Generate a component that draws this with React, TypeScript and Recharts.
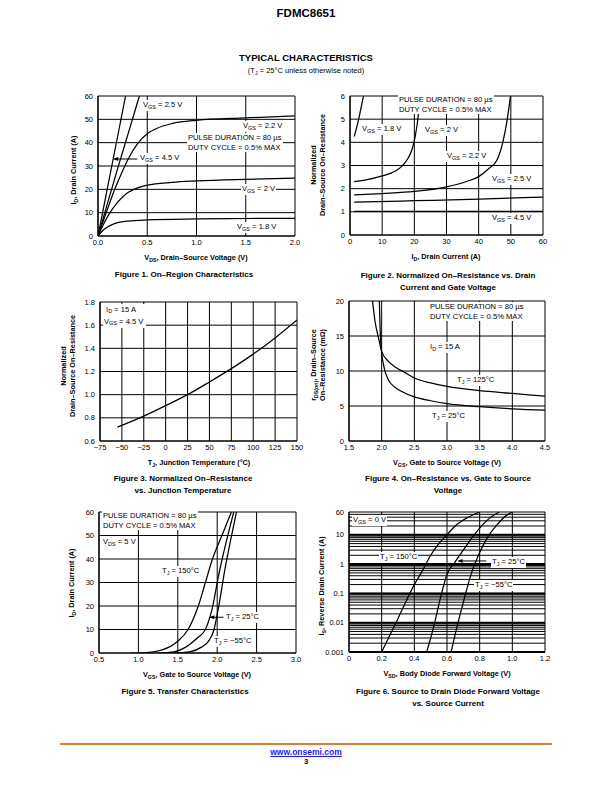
import React from 'react';
import { LineChart, Line, XAxis, YAxis, CartesianGrid, ReferenceLine, ReferenceDot } from 'recharts';

type Pt = { x: number; y: number };
const pts = (a: number[][]): Pt[] => a.map(([x, y]) => ({ x, y }));

// Figure 1 - On-Region Characteristics (VDS in V, ID in A)
const f1Vgs45 = pts([[0, 0], [0.14, 30], [0.28, 60]]);
const f1Vgs25 = pts([[0, 0], [0.1, 14.5], [0.2, 29], [0.3, 43], [0.42, 60]]);
const f1Vgs22 = pts([[0, 0], [0.1, 12], [0.17, 20], [0.25, 28], [0.3, 32.5], [0.4, 39.5], [0.5, 43.8], [0.6, 46.2], [0.75, 48.2], [1.0, 49.6], [1.5, 50.6], [2.0, 51.5]]);
const f1Vgs20 = pts([[0, 0], [0.05, 4.5], [0.1, 8.5], [0.2, 14.5], [0.3, 18.5], [0.4, 20.6], [0.5, 21.8], [0.75, 23], [1.0, 23.6], [1.5, 24.3], [2.0, 24.8]]);
const f1Vgs18 = pts([[0, 0], [0.03, 1.5], [0.06, 2.8], [0.1, 4], [0.15, 5], [0.2, 5.7], [0.3, 6.4], [0.5, 6.9], [1.0, 7.3], [1.5, 7.5], [2.0, 7.6]]);
const f1XTicks = [0, 0.5, 1.0, 1.5, 2.0];
const f1YTicks = [0, 10, 20, 30, 40, 50, 60];

// Figure 2 - normalized on-resistance vs drain current
const f2Vgs18 = pts([[1.3, 4.25], [2, 4.6], [3, 5.2], [4.2, 6]]);
const f2Vgs20 = pts([[1.3, 2.3], [5, 2.38], [10, 2.55], [14, 2.75], [16, 2.95], [18, 3.3], [19.3, 3.7], [20.2, 4.2], [21, 4.9], [21.8, 6]]);
const f2Vgs22 = pts([[1.3, 1.73], [10, 1.79], [20, 1.88], [30, 2.08], [36, 2.3], [40, 2.52], [43, 2.85], [45.7, 3.24], [47.5, 4.0], [48.9, 5.0], [49.9, 6]]);
const f2Vgs25 = pts([[1.3, 1.42], [20, 1.48], [40, 1.55], [60, 1.64]]);
const f2Vgs45 = pts([[1.3, 1.02], [30, 1.02], [60, 1.02]]);
const f2XTicks = [0, 10, 20, 30, 40, 50, 60];
const f2YTicks = [0, 1, 2, 3, 4, 5, 6];

// Figure 3 - normalized on-resistance vs junction temperature
const f3Curve = pts([[-55, 0.72], [-25, 0.815], [0, 0.905], [25, 1.0], [50, 1.11], [75, 1.225], [100, 1.35], [125, 1.49], [150, 1.645]]);
const f3XTicks = [-75, -50, -25, 0, 25, 50, 75, 100, 125, 150];
const f3YTicks = [0.6, 0.8, 1.0, 1.2, 1.4, 1.6, 1.8];

// Figure 4 - on-resistance vs gate voltage (mOhm)
const f4Tj125 = pts([[1.86, 20], [1.9, 17], [1.95, 14.8], [2.0, 12.8], [2.1, 11.4], [2.2, 10.6], [2.35, 9.8], [2.5, 9.0], [2.75, 8.3], [3.0, 7.8], [3.5, 7.2], [4.0, 6.8], [4.5, 6.4]]);
const f4Tj25 = pts([[1.965, 20], [1.975, 16.5], [1.99, 13.5], [2.03, 10.8], [2.1, 8.8], [2.2, 7.7], [2.3, 7.1], [2.5, 6.3], [2.75, 5.75], [3.0, 5.35], [3.5, 4.9], [4.0, 4.6], [4.5, 4.4]]);
const f4XTicks = [1.5, 2.0, 2.5, 3.0, 3.5, 4.0, 4.5];
const f4YTicks = [0, 5, 10, 15, 20];

// Figure 5 - transfer characteristics
const f5Tj150 = pts([[0.9, 0], [1.1, 0.2], [1.3, 1.3], [1.5, 5], [1.63, 10], [1.76, 20], [1.85, 30], [1.94, 40], [2.06, 50], [2.18, 60]]);
const f5Tj25 = pts([[1.25, 0], [1.45, 0.5], [1.6, 2.5], [1.75, 6.5], [1.85, 10], [1.93, 18], [2.03, 35], [2.12, 48], [2.21, 60]]);
const f5TjM55 = pts([[1.45, 0], [1.65, 0.5], [1.8, 2.5], [1.9, 5.5], [1.96, 10], [2.02, 20], [2.1, 36], [2.17, 48], [2.245, 60]]);
const f5XTicks = [0.5, 1.0, 1.5, 2.0, 2.5, 3.0];
const f5YTicks = [0, 10, 20, 30, 40, 50, 60];

// Figure 6 - body diode forward voltage (log current)
const f6Tj150 = pts([[0.2, 0.001], [0.3, 0.014], [0.4, 0.2], [0.45, 0.6], [0.5, 2], [0.55, 5], [0.6, 10], [0.65, 20], [0.7, 32], [0.8, 60]]);
const f6Tj25 = pts([[0.476, 0.001], [0.52, 0.008], [0.56, 0.07], [0.6, 0.45], [0.65, 1.2], [0.7, 3], [0.75, 7.5], [0.8, 17], [0.85, 33], [0.92, 60]]);
const f6TjM55 = pts([[0.625, 0.001], [0.65, 0.004], [0.7, 0.05], [0.75, 0.5], [0.8, 2.5], [0.85, 8.5], [0.9, 20], [0.95, 40], [1.0, 60]]);
const f6XTicks = [0, 0.2, 0.4, 0.6, 0.8, 1.0, 1.2];
const f6YTicks = [
  0.001, 0.002, 0.003, 0.004, 0.005, 0.006, 0.007, 0.008, 0.009,
  0.01, 0.02, 0.03, 0.04, 0.05, 0.06, 0.07, 0.08, 0.09,
  0.1, 0.2, 0.3, 0.4, 0.5, 0.6, 0.7, 0.8, 0.9,
  1, 2, 3, 4, 5, 6, 7, 8, 9,
  10, 20, 30, 40, 50, 60,
];
const f6Decades = [0.001, 0.01, 0.1, 1, 10];
const f6YLabels: Record<string, string> = { '0.001': '0.001', '0.01': '0.01', '0.1': '0.1', '1': '1', '10': '10', '60': '60' };

const FONT = '"Liberation Sans", Arial, Helvetica, sans-serif';
const YW = 30;
const MT = 6;
const MR = 8;
const XH = 16;

const fix1 = (v: number) => v.toFixed(1);
const int = (v: number) => String(v);
const minus = (v: number) => String(v).replace('-', '\u2212');

type Box = { x: number; y: number; w: number; h: number };

interface PanelProps {
  box: Box;
  xDomain: [number, number];
  xTicks: number[];
  xFmt: (v: number) => string;
  yDomain: [number, number];
  yTicks: number[];
  yFmt: (v: number) => string;
  log?: boolean;
  series: Pt[][];
  children?: React.ReactNode;
}

const Panel = ({ box, xDomain, xTicks, xFmt, yDomain, yTicks, yFmt, log, series, children }: PanelProps) => (
  <div style={{ position: 'absolute', left: box.x - YW, top: box.y - MT }}>
    <LineChart width={box.w + YW + MR} height={box.h + MT + XH} margin={{ top: MT, right: MR, bottom: 0, left: 0 }}>
      <CartesianGrid stroke="#000" strokeWidth={1} />
      <XAxis
        type="number"
        dataKey="x"
        domain={xDomain}
        ticks={xTicks}
        interval={0}
        allowDataOverflow
        height={XH}
        tickLine={false}
        tickSize={0}
        tickMargin={4}
        axisLine={{ stroke: '#000', strokeWidth: 1.2 }}
        tick={{ fontSize: 7.5, fill: '#000' }}
        tickFormatter={xFmt}
      />
      <YAxis
        type="number"
        dataKey="y"
        domain={yDomain}
        ticks={yTicks}
        interval={0}
        allowDataOverflow
        scale={log ? 'log' : 'linear'}
        width={YW}
        tickLine={false}
        tickSize={0}
        tickMargin={5}
        axisLine={{ stroke: '#000', strokeWidth: 1.2 }}
        tick={{ fontSize: 7.5, fill: '#000' }}
        tickFormatter={yFmt}
      />
      {children}
      {series.map((d, i) => (
        <Line key={i} data={d} dataKey="y" type="monotone" stroke="#000" strokeWidth={1.25} dot={false} activeDot={false} isAnimationActive={false} />
      ))}
    </LineChart>
  </div>
);

// small filled arrowhead pointing left
const arrowHead = (p: any) => (
  <path d={`M${p.cx},${p.cy} l5,-2 l0,4 z`} fill="#000" />
);

const Sub = ({ t }: { t: string }) => (
  <span style={{ fontSize: '0.72em', position: 'relative', top: '0.3em' }}>{t}</span>
);

const Txt = ({ x, y, children, size = 7.6, lh = 9.5, bg = true }: { x: number; y: number; children: React.ReactNode; size?: number; lh?: number; bg?: boolean }) => (
  <div
    style={{
      position: 'absolute',
      left: x - 1,
      top: y - lh / 2,
      fontSize: size,
      lineHeight: `${lh}px`,
      padding: '0 1px',
      background: bg ? '#fff' : 'transparent',
      whiteSpace: 'nowrap',
    }}
  >
    {children}
  </div>
);

// y is the centre of the first line
const Center = ({ x, y, children, size = 7.5, bold = true, lh = 12 }: { x: number; y: number; children: React.ReactNode; size?: number; bold?: boolean; lh?: number }) => (
  <div
    style={{
      position: 'absolute',
      left: x,
      top: y - lh / 2,
      transform: 'translateX(-50%)',
      fontSize: size,
      fontWeight: bold ? 'bold' : 'normal',
      lineHeight: `${lh}px`,
      whiteSpace: 'nowrap',
      textAlign: 'center',
    }}
  >
    {children}
  </div>
);

const VTitle = ({ x, y, children, lh = 8.5 }: { x: number; y: number; children: React.ReactNode; lh?: number }) => (
  <div
    style={{
      position: 'absolute',
      left: x,
      top: y,
      transform: 'translate(-50%, -50%) rotate(-90deg)',
      fontSize: 7.3,
      fontWeight: 'bold',
      lineHeight: `${lh}px`,
      whiteSpace: 'nowrap',
      textAlign: 'center',
    }}
  >
    {children}
  </div>
);

const Pulse = ({ x, y }: { x: number; y: number }) => (
  <Txt x={x} y={y}>
    PULSE DURATION = 80 µs
    <br />
    DUTY CYCLE = 0.5% MAX
  </Txt>
);

export default function App() {
  return (
    <div style={{ position: 'absolute', left: 0, top: 0, width: 612, height: 792, background: '#fff', fontFamily: FONT, color: '#000', overflow: 'hidden' }}>
      <Center x={306} y={13} size={11.5}>FDMC8651</Center>
      <Center x={306} y={58} size={9.5}>TYPICAL CHARACTERISTICS</Center>
      <Center x={306} y={71} size={7.5} bold={false}>
        (T<Sub t="J" /> = 25°C unless otherwise noted)
      </Center>

      {/* Figure 1 */}
      <Panel box={{ x: 98, y: 96, w: 197, h: 140 }} xDomain={[0, 2]} xTicks={f1XTicks} xFmt={fix1} yDomain={[0, 60]} yTicks={f1YTicks} yFmt={int}
        series={[f1Vgs45, f1Vgs25, f1Vgs22, f1Vgs20, f1Vgs18]}>
        <ReferenceLine segment={[{ x: 0.16, y: 33 }, { x: 0.4, y: 33 }]} stroke="#000" strokeWidth={1} />
        <ReferenceDot x={0.155} y={33} shape={arrowHead} />
      </Panel>
      <Txt x={143} y={105}>V<Sub t="GS" /> = 2.5 V</Txt>
      <Txt x={243} y={126}>V<Sub t="GS" /> = 2.2 V</Txt>
      <Pulse x={188} y={138} />
      <Txt x={140} y={158}>V<Sub t="GS" /> = 4.5 V</Txt>
      <Txt x={242} y={189}>V<Sub t="GS" /> = 2 V</Txt>
      <Txt x={237} y={227}>V<Sub t="GS" /> = 1.8 V</Txt>
      <VTitle x={74} y={170}>I<Sub t="D" />, Drain Current (A)</VTitle>
      <Center x={196} y={258} size={7.3}>V<Sub t="DS" />, Drain–Source Voltage (V)</Center>
      <Center x={184} y={275} size={8}>Figure 1. On–Region Characteristics</Center>

      {/* Figure 2 */}
      <Panel box={{ x: 350, y: 96, w: 193, h: 139 }} xDomain={[0, 60]} xTicks={f2XTicks} xFmt={int} yDomain={[0, 6]} yTicks={f2YTicks} yFmt={int}
        series={[f2Vgs18, f2Vgs20, f2Vgs22, f2Vgs25, f2Vgs45]} />
      <Pulse x={399} y={100} />
      <Txt x={362} y={129}>V<Sub t="GS" /> = 1.8 V</Txt>
      <Txt x={425} y={130}>V<Sub t="GS" /> = 2 V</Txt>
      <Txt x={447} y={156}>V<Sub t="GS" /> = 2.2 V</Txt>
      <Txt x={492} y={179}>V<Sub t="GS" /> = 2.5 V</Txt>
      <Txt x={492} y={218}>V<Sub t="GS" /> = 4.5 V</Txt>
      <VTitle x={318} y={165}>Normalized<br />Drain–Source On–Resistance</VTitle>
      <Center x={446} y={257} size={7.3}>I<Sub t="D" />, Drain Current (A)</Center>
      <Center x={448} y={276} size={8}>Figure 2. Normalized On–Resistance vs. Drain<br />Current and Gate Voltage</Center>

      {/* Figure 3 */}
      <Panel box={{ x: 100, y: 302, w: 197, h: 139 }} xDomain={[-75, 150]} xTicks={f3XTicks} xFmt={minus} yDomain={[0.6, 1.8]} yTicks={f3YTicks} yFmt={fix1}
        series={[f3Curve]} />
      <Txt x={104} y={309} lh={11}>
        &nbsp;I<Sub t="D" /> = 15 A
        <br />
        V<Sub t="GS" /> = 4.5 V&nbsp;
      </Txt>
      <VTitle x={68} y={366}>Normalized<br />Drain–Source On–Resistance</VTitle>
      <Center x={199} y={463} size={7.3}>T<Sub t="J" />, Junction Temperature (°C)</Center>
      <Center x={183} y={479} size={8}>Figure 3. Normalized On–Resistance<br />vs. Junction Temperature</Center>

      {/* Figure 4 */}
      <Panel box={{ x: 349, y: 301, w: 196, h: 140 }} xDomain={[1.5, 4.5]} xTicks={f4XTicks} xFmt={fix1} yDomain={[0, 20]} yTicks={f4YTicks} yFmt={int}
        series={[f4Tj125, f4Tj25]} />
      <Pulse x={430} y={307} />
      <Txt x={430} y={347}>I<Sub t="D" /> = 15 A</Txt>
      <Txt x={457} y={380}>T<Sub t="J" /> = 125°C</Txt>
      <Txt x={432} y={416}>T<Sub t="J" /> = 25°C</Txt>
      <VTitle x={318} y={365}>r<Sub t="DS(on)" />, Drain–Source<br />On–Resistance (mΩ)</VTitle>
      <Center x={447} y={463} size={7.3}>V<Sub t="GS" />, Gate to Source Voltage (V)</Center>
      <Center x={448} y={479} size={8}>Figure 4. On–Resistance vs. Gate to Source<br />Voltage</Center>

      {/* Figure 5 */}
      <Panel box={{ x: 99, y: 512, w: 197, h: 141 }} xDomain={[0.5, 3]} xTicks={f5XTicks} xFmt={fix1} yDomain={[0, 60]} yTicks={f5YTicks} yFmt={int}
        series={[f5Tj150, f5Tj25, f5TjM55]}>
        <ReferenceLine segment={[{ x: 1.91, y: 15.2 }, { x: 2.08, y: 15.2 }]} stroke="#000" strokeWidth={1} />
        <ReferenceDot x={1.9} y={15.2} shape={arrowHead} />
      </Panel>
      <Pulse x={103} y={516} />
      <Txt x={103} y={542}>V<Sub t="DS" /> = 5 V</Txt>
      <Txt x={162} y={571}>T<Sub t="J" /> = 150°C</Txt>
      <Txt x={226} y={617}>T<Sub t="J" /> = 25°C</Txt>
      <Txt x={214} y={641}>T<Sub t="J" /> = −55°C</Txt>
      <VTitle x={72} y={583}>I<Sub t="D" />, Drain Current (A)</VTitle>
      <Center x={197} y={675} size={7.3}>V<Sub t="GS" />, Gate to Source Voltage (V)</Center>
      <Center x={185} y={692} size={8}>Figure 5. Transfer Characteristics</Center>

      {/* Figure 6 */}
      <Panel box={{ x: 349, y: 512, w: 196, h: 140 }} xDomain={[0, 1.2]} xTicks={f6XTicks} xFmt={(v) => (v === 0 ? '0' : v.toFixed(1))}
        yDomain={[0.001, 60]} yTicks={f6YTicks} yFmt={(v) => f6YLabels[String(v)] ?? ''} log
        series={[f6Tj150, f6Tj25, f6TjM55]}>
        {f6Decades.map((d) => (
          <ReferenceLine key={d} y={d} stroke="#000" strokeWidth={2} />
        ))}
        <ReferenceLine segment={[{ x: 0.67, y: 1.28 }, { x: 0.84, y: 1.28 }]} stroke="#000" strokeWidth={1} />
        <ReferenceDot x={0.665} y={1.28} shape={arrowHead} />
      </Panel>
      <Txt x={353} y={520}>V<Sub t="GS" /> = 0 V</Txt>
      <Txt x={380} y={557}>T<Sub t="J" /> = 150°C</Txt>
      <Txt x={492} y={562}>T<Sub t="J" /> = 25°C</Txt>
      <Txt x={475} y={585}>T<Sub t="J" /> = −55°C</Txt>
      <VTitle x={322} y={586}>I<Sub t="S" />, Reverse Drain Current (A)</VTitle>
      <Center x={447} y={674} size={7.3}>V<Sub t="SD" />, Body Diode Forward Voltage (V)</Center>
      <Center x={448} y={692} size={8}>Figure 6. Source to Drain Diode Forward Voltage<br />vs. Source Current</Center>

      {/* footer */}
      <div style={{ position: 'absolute', left: 60, top: 743, width: 492, height: 2, background: '#d9822b' }} />
      <Center x={306} y={752} size={8.5}>
        <span style={{ color: '#1a1aff', textDecoration: 'underline' }}>www.onsemi.com</span>
      </Center>
      <Center x={306} y={762} size={7.5}>3</Center>
    </div>
  );
}
